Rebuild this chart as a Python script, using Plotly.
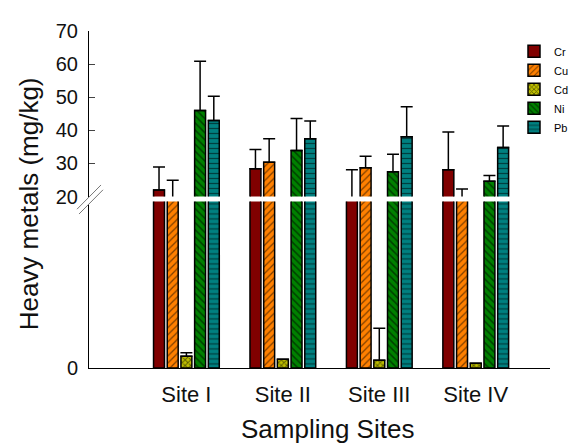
import plotly.graph_objects as go

sites = ["Site I", "Site II", "Site III", "Site IV"]
metals = ["Cr", "Cu", "Cd", "Ni", "Pb"]
values = {
    "Cr": [21.96, 28.4, 19.5, 28.1],
    "Cu": [19.5, 30.4, 28.7, 19.5],
    "Cd": [1.33, 1.0, 0.88, 0.55],
    "Ni": [46.0, 33.9, 27.5, 24.6],
    "Pb": [43.0, 37.5, 38.1, 34.8],
}
errors = {
    "Cr": [7.0, 5.8, 8.6, 11.4],
    "Cu": [5.4, 7.1, 3.5, 2.8],
    "Cd": [0.4, 0.0, 3.65, 0.0],
    "Ni": [14.9, 9.7, 5.3, 1.8],
    "Pb": [7.3, 5.3, 9.0, 6.5],
}
lower_ticks = [0]
upper_ticks = [20, 30, 40, 50, 60, 70]

colors = {"Cr": "#800000", "Cu": "#FF8000", "Cd": "#BFBF00", "Ni": "#008000", "Pb": "#008080"}
patterns = {"Cr": "", "Cu": "/", "Cd": "x", "Ni": "\\", "Pb": "-"}
psize = {"Cr": 6, "Cu": 5, "Cd": 4, "Ni": 5, "Pb": 5}
psol = {"Cr": 0.3, "Cu": 0.25, "Cd": 0.45, "Ni": 0.3, "Pb": 0.25}

FONT = "Arial, 'Liberation Sans', sans-serif"

fig = go.Figure()

def bar(metal, yaxis, showlegend):
    return go.Bar(
        x=sites, y=values[metal], name=metal, yaxis=yaxis, xaxis="x",
        legendgroup=metal, showlegend=showlegend,
        marker=dict(
            color=colors[metal],
            line=dict(color="black", width=1.5),
            pattern=dict(shape=patterns[metal], fgcolor="black", bgcolor=colors[metal],
                         size=psize[metal], solidity=psol[metal], fillmode="overlay"),
        ),
        error_y=dict(type="data", array=errors[metal], arrayminus=[0] * len(sites),
                     symmetric=False, color="black", thickness=1.5, width=6),
    )

for m in metals:
    fig.add_trace(bar(m, "y", False))
for m in metals:
    fig.add_trace(bar(m, "y2", True))

# page body has an 8px margin; work in window pixel coordinates
OFF = 8
W, H = 588 - OFF, 445 - OFF
x_left, x_right, y_top, y_bottom = 89, 550, 20, 368
L, R, T = x_left - OFF, 588 - x_right, y_top - OFF
B = H - (y_bottom - OFF)
pw, ph = x_right - x_left, y_bottom - y_top

def px(X):
    return (X - x_left) / pw

def py(Y):
    return (y_bottom - Y) / ph

shapes = [
    dict(type="path", xref="paper", yref="paper",
         path=f"M{px(77)},{py(204)} L{px(101)},{py(179)} L{px(103)},{py(184)} L{px(79)},{py(209)} Z",
         fillcolor="white", line=dict(width=0)),
    dict(type="line", xref="paper", yref="paper", x0=px(77), y0=py(204), x1=px(101), y1=py(179),
         line=dict(color="#777", width=1)),
    dict(type="line", xref="paper", yref="paper", x0=px(79), y0=py(209), x1=px(103), y1=py(184),
         line=dict(color="#777", width=1)),
]

fig.update_layout(
    width=W, height=H,
    margin=dict(l=L, r=R, t=T, b=B),
    paper_bgcolor="white", plot_bgcolor="rgba(0,0,0,0)",
    font=dict(family=FONT, color="black"),
    barmode="group", bargap=0.29, bargroupgap=0.2,
    xaxis=dict(type="category", range=[-1.01, 3.77], showline=True, linecolor="black", linewidth=1,
               ticks="outside", ticklen=7, tickcolor="rgba(0,0,0,0)",
               tickfont=dict(size=22, family=FONT, color="#111"), showgrid=False, zeroline=False,
               anchor="y"),
    yaxis=dict(domain=[0, py(196)], range=[0, 19], tickvals=lower_ticks, showline=True,
               linecolor="black", linewidth=1, ticks="inside", ticklen=6,
               tickfont=dict(size=20, family=FONT, color="#111"), ticklabelstandoff=6,
               showgrid=False, zeroline=False, anchor="x"),
    yaxis2=dict(domain=[py(191), 1], range=[20, 70], tickvals=upper_ticks, showline=True,
                linecolor="black", linewidth=1, ticks="inside", ticklen=6,
                tickfont=dict(size=20, family=FONT, color="#111"), ticklabelstandoff=6,
                showgrid=False, zeroline=False, anchor="x"),
    legend=dict(x=px(514), y=py(26), xanchor="left", yanchor="top", bgcolor="rgba(0,0,0,0)",
                font=dict(size=11, family=FONT), tracegroupgap=0, traceorder="normal"),
    shapes=shapes,
    annotations=[
        dict(text="Heavy metals (mg/kg)", textangle=-90, xref="paper", yref="paper",
             x=px(29), y=py(199), xanchor="center", yanchor="middle", showarrow=False,
             font=dict(size=26, family=FONT, color="#111")),
        dict(text="Sampling Sites", xref="paper", yref="paper",
             x=px(327), y=py(431), xanchor="center", yanchor="middle", showarrow=False,
             font=dict(size=26, family=FONT, color="#111")),
    ],
)

fig.write_html("out.html")
